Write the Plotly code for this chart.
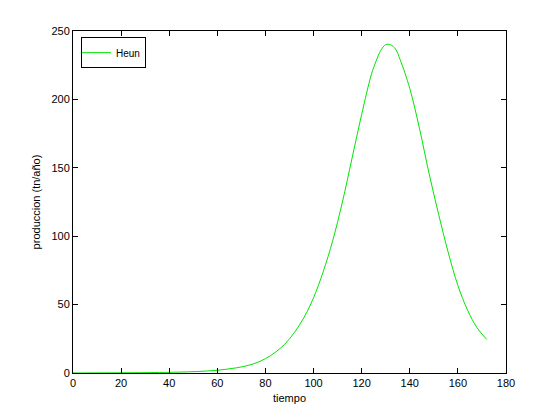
import plotly.graph_objects as go

tiempo = [0, 4, 8, 12, 16, 20, 24, 28, 32, 36, 40, 44, 48, 52, 56, 60, 64, 68, 72, 76,
          80, 84, 88, 92, 96, 100, 104, 108, 112, 116, 120, 124, 126, 128, 130, 132,
          134, 136, 140, 144, 148, 152, 156, 160, 164, 168, 172]
produccion = [0.05, 0.06, 0.08, 0.1, 0.12, 0.15, 0.2, 0.25, 0.3, 0.4, 0.5, 0.65, 0.85,
              1.1, 1.5, 2.0, 2.8, 3.8, 5.2, 7.3, 10.5, 15, 21, 29.5, 40.5, 55, 74, 97,
              125, 157, 189, 218, 228, 236, 240, 240, 237, 229, 208, 179, 146, 116, 88,
              64, 46, 33, 24.5]

x_ticks = [0, 20, 40, 60, 80, 100, 120, 140, 160, 180]
y_ticks = [0, 50, 100, 150, 200, 250]

fig = go.Figure()
fig.add_trace(go.Scatter(x=tiempo, y=produccion, mode="lines", name="Heun",
                         line=dict(color="rgb(0,230,0)", width=1, shape="spline")))

tfont = dict(family="Liberation Sans, Arial", size=11, color="black")
axis_common = dict(showline=True, linecolor="black", linewidth=1, mirror="ticks",
                   ticks="inside", ticklen=5, tickcolor="black", showgrid=False,
                   zeroline=False, tickfont=tfont)

fig.update_layout(
    width=559, height=419,
    margin=dict(l=65, r=61, t=23, b=54),
    paper_bgcolor="white", plot_bgcolor="white",
    font=tfont,
    xaxis=dict(range=[0, 180], tickvals=x_ticks,
               title=dict(text="tiempo", standoff=6, font=dict(size=11)), **axis_common),
    yaxis=dict(range=[0, 250], tickvals=y_ticks,
               title=dict(text="produccion (tn/año)", standoff=8, font=dict(size=11)), **axis_common),
    legend=dict(x=0.0185, y=0.982, xanchor="left", yanchor="top", bordercolor="black",
                borderwidth=1, bgcolor="white", font=dict(size=10),
                itemwidth=30, tracegroupgap=0, indentation=-6),
    showlegend=True,
)

fig.write_html("out.html")
